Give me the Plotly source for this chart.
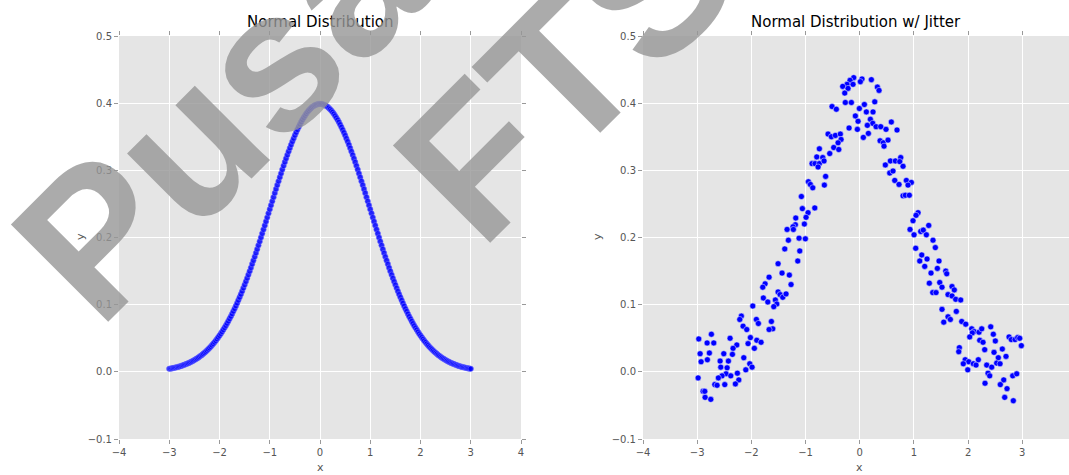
import plotly.graph_objects as go

# ---------------- data ----------------
curve_x = [-3.000, -2.975, -2.950, -2.925, -2.900, -2.875, -2.850, -2.825, -2.800, -2.775,
           -2.750, -2.725, -2.700, -2.675, -2.650, -2.625, -2.600, -2.575, -2.550, -2.525,
           -2.500, -2.475, -2.450, -2.425, -2.400, -2.375, -2.350, -2.325, -2.300, -2.275,
           -2.250, -2.225, -2.200, -2.175, -2.150, -2.125, -2.100, -2.075, -2.050, -2.025,
           -2.000, -1.975, -1.950, -1.925, -1.900, -1.875, -1.850, -1.825, -1.800, -1.775,
           -1.750, -1.725, -1.700, -1.675, -1.650, -1.625, -1.600, -1.575, -1.550, -1.525,
           -1.500, -1.475, -1.450, -1.425, -1.400, -1.375, -1.350, -1.325, -1.300, -1.275,
           -1.250, -1.225, -1.200, -1.175, -1.150, -1.125, -1.100, -1.075, -1.050, -1.025,
           -1.000, -0.975, -0.950, -0.925, -0.900, -0.875, -0.850, -0.825, -0.800, -0.775,
           -0.750, -0.725, -0.700, -0.675, -0.650, -0.625, -0.600, -0.575, -0.550, -0.525,
           -0.500, -0.475, -0.450, -0.425, -0.400, -0.375, -0.350, -0.325, -0.300, -0.275,
           -0.250, -0.225, -0.200, -0.175, -0.150, -0.125, -0.100, -0.075, -0.050, -0.025,
           0.000,
           0.025, 0.050, 0.075, 0.100, 0.125, 0.150, 0.175, 0.200, 0.225, 0.250,
           0.275, 0.300, 0.325, 0.350, 0.375, 0.400, 0.425, 0.450, 0.475, 0.500,
           0.525, 0.550, 0.575, 0.600, 0.625, 0.650, 0.675, 0.700, 0.725, 0.750,
           0.775, 0.800, 0.825, 0.850, 0.875, 0.900, 0.925, 0.950, 0.975, 1.000,
           1.025, 1.050, 1.075, 1.100, 1.125, 1.150, 1.175, 1.200, 1.225, 1.250,
           1.275, 1.300, 1.325, 1.350, 1.375, 1.400, 1.425, 1.450, 1.475, 1.500,
           1.525, 1.550, 1.575, 1.600, 1.625, 1.650, 1.675, 1.700, 1.725, 1.750,
           1.775, 1.800, 1.825, 1.850, 1.875, 1.900, 1.925, 1.950, 1.975, 2.000,
           2.025, 2.050, 2.075, 2.100, 2.125, 2.150, 2.175, 2.200, 2.225, 2.250,
           2.275, 2.300, 2.325, 2.350, 2.375, 2.400, 2.425, 2.450, 2.475, 2.500,
           2.525, 2.550, 2.575, 2.600, 2.625, 2.650, 2.675, 2.700, 2.725, 2.750,
           2.775, 2.800, 2.825, 2.850, 2.875, 2.900, 2.925, 2.950, 2.975, 3.000]
curve_y = [0.00443, 0.00478, 0.00514, 0.00553, 0.00595, 0.00640, 0.00687, 0.00738, 0.00792, 0.00849,
           0.00909, 0.00974, 0.01042, 0.01115, 0.01191, 0.01273, 0.01358, 0.01449, 0.01545, 0.01646,
           0.01753, 0.01866, 0.01984, 0.02109, 0.02239, 0.02377, 0.02522, 0.02674, 0.02833, 0.03000,
           0.03174, 0.03357, 0.03547, 0.03747, 0.03955, 0.04173, 0.04398, 0.04634, 0.04879, 0.05135,
           0.05399, 0.05675, 0.05959, 0.06256, 0.06562, 0.06879, 0.07206, 0.07545, 0.07895, 0.08256,
           0.08628, 0.09011, 0.09405, 0.09811, 0.10226, 0.10654, 0.11092, 0.11541, 0.12001, 0.12471,
           0.12952, 0.13443, 0.13943, 0.14453, 0.14973, 0.15501, 0.16038, 0.16584, 0.17137, 0.17697,
           0.18265, 0.18838, 0.19419, 0.20003, 0.20594, 0.21188, 0.21785, 0.22385, 0.22988, 0.23592,
           0.24197, 0.24801, 0.25406, 0.26008, 0.26609, 0.27205, 0.27798, 0.28386, 0.28969, 0.29545,
           0.30114, 0.30674, 0.31225, 0.31767, 0.32297, 0.32816, 0.33322, 0.33815, 0.34294, 0.34758,
           0.35207, 0.35638, 0.36053, 0.36449, 0.36827, 0.37185, 0.37524, 0.37842, 0.38139, 0.38414,
           0.38667, 0.38897, 0.39104, 0.39288, 0.39448, 0.39584, 0.39695, 0.39782, 0.39844, 0.39882,
           0.39894,
           0.39882, 0.39844, 0.39782, 0.39695, 0.39584, 0.39448, 0.39288, 0.39104, 0.38897, 0.38667,
           0.38414, 0.38139, 0.37842, 0.37524, 0.37185, 0.36827, 0.36449, 0.36053, 0.35638, 0.35207,
           0.34758, 0.34294, 0.33815, 0.33322, 0.32816, 0.32297, 0.31767, 0.31225, 0.30674, 0.30114,
           0.29545, 0.28969, 0.28386, 0.27798, 0.27205, 0.26609, 0.26008, 0.25406, 0.24801, 0.24197,
           0.23592, 0.22988, 0.22385, 0.21785, 0.21188, 0.20594, 0.20003, 0.19419, 0.18838, 0.18265,
           0.17697, 0.17137, 0.16584, 0.16038, 0.15501, 0.14973, 0.14453, 0.13943, 0.13443, 0.12952,
           0.12471, 0.12001, 0.11541, 0.11092, 0.10654, 0.10226, 0.09811, 0.09405, 0.09011, 0.08628,
           0.08256, 0.07895, 0.07545, 0.07206, 0.06879, 0.06562, 0.06256, 0.05959, 0.05675, 0.05399,
           0.05135, 0.04879, 0.04634, 0.04398, 0.04173, 0.03955, 0.03747, 0.03547, 0.03357, 0.03174,
           0.03000, 0.02833, 0.02674, 0.02522, 0.02377, 0.02239, 0.02109, 0.01984, 0.01866, 0.01753,
           0.01646, 0.01545, 0.01449, 0.01358, 0.01273, 0.01191, 0.01115, 0.01042, 0.00974, 0.00909,
           0.00849, 0.00792, 0.00738, 0.00687, 0.00640, 0.00595, 0.00553, 0.00514, 0.00478, 0.00443]

jitter_x = [-1.974, -2.185, -2.214, -1.908, -1.871, -2.153, -2.085, -2.738, -2.971, -2.393,
            -2.018, -1.900, -2.817, -2.694, -2.269, -2.061, -2.338, -1.945, -2.946, -2.775,
            -2.509, -2.350, -2.140, -2.928, -2.812, -2.577, -2.424, -2.565, -2.448, -2.030,
            -1.987, -2.103, -2.258, -2.467, -2.541, -2.380, -2.609, -2.983, -2.232, -2.675,
            -2.633, -2.491, -2.295, -2.891, -2.860, -2.854, -2.749, -1.821,
            -0.745, -0.793, -0.683, -0.880, -0.825, -0.745, -0.769, -0.659, -0.630, -0.653,
            -0.948, -0.911, -0.867, -1.077, -1.059, -0.830, -0.954, -0.991, -1.181, -1.188,
            -1.022, -1.231, -1.341, -1.225, -1.317, -1.120, -1.004, -1.384, -1.107, -1.144,
            -1.507, -1.434, -1.299, -1.673, -1.747, -1.790, -1.268, -1.507, -1.470, -1.421,
            -1.360, -1.779, -1.697, -1.557, -1.531, -1.587, -1.631, -1.605, -1.673,
            -0.111, 0.042, 0.214, -0.179, 0.011, -0.234, -0.124, -0.314, -0.216, 0.325,
            0.356, -0.277, -0.511, -0.432, -0.266, -0.155, 0.277, 0.085, -0.007, 0.122,
            0.245, -0.081, -0.031, 0.196, 0.240, 0.140, 0.301, 0.387, 0.485, -0.197,
            -0.044, 0.159, 0.066, -0.585, -0.524, -0.450, -0.358, -0.345, -0.400, -0.480,
            -0.387, -0.554, 0.375, 0.435, 0.522, 0.448, 0.583, 0.472, 0.565, 0.553,
            0.688, 0.657, 0.756, 0.738, 0.799, 0.614, 0.646, 0.725, 0.860, 0.952,
            0.891, 0.799, 0.841, 0.915, 1.076, 1.039, 0.983, 1.273, 0.928, 1.125,
            1.173, 1.229, 1.002, 1.352, 1.395, 1.033, 1.144, 1.242, 1.107, 1.463,
            1.199, 1.432, 1.315, 1.587, 1.605, 1.284, 1.476, 1.518, 1.703, 1.745,
            1.347, 1.408, 1.629, 1.703, 1.771, 1.518, 1.782, 1.629, 1.672, 1.550,
            1.863, 1.882, 1.956, 2.066, 2.109, 2.201, 2.251, 2.077, 2.029, 2.417,
            2.465, 2.214, 2.275, 2.502, 2.755, 2.797, 2.866, 2.915, 2.952, 2.982,
            2.631, 1.838, 1.827, 2.306, 2.478, 2.557, 2.699, 1.946, 2.011, 2.188,
            2.096, 2.146, 1.911, 2.527, 2.589, 2.343, 2.435, 1.993, 2.367, 2.398,
            2.823, 2.897, 2.657, 2.312, 2.594, 2.718, 2.675, 2.834]
jitter_y = [0.098, 0.083, 0.078, 0.078, 0.072, 0.068, 0.063, 0.056, 0.049, 0.050,
            0.051, 0.047, 0.043, 0.043, 0.040, 0.042, 0.035, 0.035, 0.027, 0.028,
            0.027, 0.026, 0.021, 0.015, 0.018, 0.016, 0.016, 0.007, 0.006, 0.012,
            0.007, 0.003, -0.002, -0.003, -0.006, -0.006, -0.009, -0.009, -0.012, -0.019,
            -0.020, -0.019, -0.018, -0.029, -0.029, -0.038, -0.041, 0.044,
            0.332, 0.320, 0.319, 0.310, 0.310, 0.310, 0.305, 0.314, 0.291, 0.278,
            0.283, 0.279, 0.274, 0.261, 0.243, 0.244, 0.237, 0.230, 0.229, 0.219,
            0.220, 0.216, 0.212, 0.212, 0.196, 0.199, 0.198, 0.183, 0.180, 0.165,
            0.161, 0.147, 0.144, 0.141, 0.131, 0.126, 0.130, 0.119, 0.115, 0.111,
            0.116, 0.110, 0.104, 0.107, 0.101, 0.097, 0.075, 0.064, 0.063,
            0.438, 0.436, 0.435, 0.434, 0.432, 0.428, 0.428, 0.425, 0.422, 0.424,
            0.419, 0.415, 0.395, 0.391, 0.401, 0.401, 0.402, 0.398, 0.392, 0.387,
            0.387, 0.381, 0.373, 0.376, 0.370, 0.367, 0.365, 0.365, 0.361, 0.363,
            0.361, 0.355, 0.349, 0.354, 0.350, 0.352, 0.354, 0.346, 0.341, 0.334,
            0.331, 0.325, 0.344, 0.341, 0.345, 0.336, 0.372, 0.308, 0.314, 0.296,
            0.360, 0.314, 0.319, 0.313, 0.306, 0.299, 0.285, 0.279, 0.285, 0.282,
            0.278, 0.262, 0.263, 0.263, 0.237, 0.233, 0.225, 0.218, 0.212, 0.209,
            0.211, 0.204, 0.204, 0.196, 0.185, 0.184, 0.174, 0.168, 0.165, 0.165,
            0.157, 0.154, 0.147, 0.150, 0.146, 0.132, 0.133, 0.126, 0.127, 0.122,
            0.118, 0.118, 0.115, 0.113, 0.108, 0.093, 0.090, 0.082, 0.078, 0.074,
            0.107, 0.075, 0.071, 0.064, 0.060, 0.059, 0.064, 0.058, 0.052, 0.067,
            0.056, 0.047, 0.044, 0.046, 0.052, 0.048, 0.048, 0.051, 0.050, 0.039,
            0.034, 0.036, 0.030, 0.033, 0.029, 0.021, 0.023, 0.018, 0.015, 0.018,
            0.012, 0.010, 0.012, 0.013, 0.012, 0.010, 0.007, 0.003, -0.002, -0.006,
            -0.006, -0.003, -0.012, -0.017, -0.019, -0.025, -0.038, -0.043]

x_ticks = [-4, -3, -2, -1, 0, 1, 2, 3, 4]
y_ticks = [-0.1, 0.0, 0.1, 0.2, 0.3, 0.4, 0.5]
titles = ["Normal Distribution", "Normal Distribution w/ Jitter"]
watermark_lines = ["Pusat FTS", "FTS"]

# ---------------- figure ----------------
W, H = 1069, 475
ML, MR, MT, MB = 119, 0, 36, 36
PW, PH = W - ML - MR, H - MT - MB

def px(xp):
    return (xp - ML) / PW

def py(yp):
    return (H - MB - yp) / PH

BLUE = "#0000ff"
TICKFONT = dict(family="DejaVu Sans", size=10, color="#555555")

fig = go.Figure()
fig.add_trace(go.Scatter(
    x=curve_x, y=curve_y, mode="markers", xaxis="x", yaxis="y",
    marker=dict(size=5.5, color="rgba(0,0,255,0.85)", line=dict(width=0.6, color="rgba(120,120,255,0.9)")),
    showlegend=False, hoverinfo="skip"))
fig.add_trace(go.Scatter(
    x=jitter_x, y=jitter_y, mode="markers", xaxis="x2", yaxis="y2",
    marker=dict(size=6, color=BLUE, line=dict(width=0.6, color="rgba(220,220,255,0.9)")),
    showlegend=False, hoverinfo="skip"))

axis_common = dict(
    showgrid=True, gridcolor="white", gridwidth=1, zeroline=False,
    ticks="outside", ticklen=4, tickwidth=1, tickcolor="#999999",
    mirror="ticks", showline=True, linecolor="rgba(0,0,0,0)",
    tickfont=TICKFONT, automargin=False)

left_dom = [0.0, px(521)]
right_dom = [px(643), 1.0]

fig.update_layout(
    width=W, height=H,
    margin=dict(l=ML, r=MR, t=MT, b=MB, pad=0),
    paper_bgcolor="white", plot_bgcolor="#e5e5e5",
    font=dict(family="DejaVu Sans", color="#555555"),
    xaxis=dict(domain=left_dom, range=[-4, 4], tickvals=x_ticks, anchor="y", **axis_common),
    yaxis=dict(domain=[0, 1], range=[-0.1, 0.5], tickvals=y_ticks, tickformat=".1f", anchor="x", **axis_common),
    xaxis2=dict(domain=right_dom, range=[-4, (1069 - 859.7) / 54.2], tickvals=x_ticks, anchor="y2", **axis_common),
    yaxis2=dict(domain=[0, 1], range=[-0.1, 0.5], tickvals=y_ticks, tickformat=".1f", anchor="x2", **axis_common),
)

annots = []
# subplot titles
for t, cx in zip(titles, [320, 856]):
    annots.append(dict(text=t, x=px(cx), y=py(22), xref="paper", yref="paper",
                       showarrow=False, xanchor="center", yanchor="middle",
                       font=dict(family="DejaVu Sans", size=15, color="#000000")))
# axis titles
for cx in [320, 859]:
    annots.append(dict(text="x", x=px(cx), y=py(467), xref="paper", yref="paper",
                       showarrow=False, xanchor="center", yanchor="middle",
                       font=dict(family="DejaVu Sans", size=11, color="#555555")))
for cx in [80, 597]:
    annots.append(dict(text="y", x=px(cx), y=py(237), xref="paper", yref="paper",
                       showarrow=False, xanchor="center", yanchor="middle", textangle=-90,
                       font=dict(family="DejaVu Sans", size=11, color="#555555")))
# watermark (two diagonal rows)
for txt, (cx, cy) in zip(watermark_lines, [(395, -64), (565, 69)]):
    annots.append(dict(text=txt, x=px(cx), y=py(cy), xref="paper", yref="paper",
                       showarrow=False, xanchor="center", yanchor="middle", textangle=-45,
                       font=dict(family="Liberation Sans", size=200, weight="bold",
                                 color="rgba(150,150,150,0.8)")))
fig.update_layout(annotations=annots)

fig.write_html("out.html")
